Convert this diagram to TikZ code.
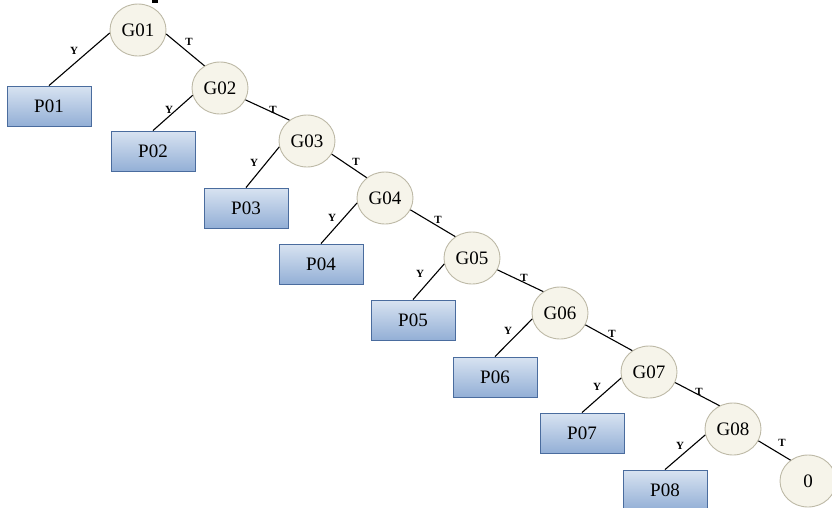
\documentclass[tikz,border=0pt]{standalone}
\usepackage{fontspec}
\setmainfont{Liberation Serif}
\usetikzlibrary{shapes.geometric}
\definecolor{ellfill}{HTML}{F6F4EA}
\definecolor{elldraw}{HTML}{BDB9A6}
\definecolor{boxtop}{HTML}{D8E3F1}
\definecolor{boxbot}{HTML}{93AFD6}
\definecolor{boxdraw}{HTML}{4A6C9E}
\begin{document}
\begin{tikzpicture}[x=1pt,y=-1pt,
 gnode/.style={ellipse, draw=elldraw, fill=ellfill, line width=0.9pt, minimum width=56pt, minimum height=52pt, inner sep=0pt, font=\fontsize{19}{21}\selectfont},
 pbox/.style={rectangle, draw=boxdraw, line width=0.9pt, top color=boxtop, bottom color=boxbot, minimum width=84pt, minimum height=40pt, inner sep=0pt, font=\fontsize{19}{21}\selectfont},
 edge/.style={draw=black, line width=1.1pt},
 lab/.style={font=\fontsize{11}{11}\selectfont\bfseries, inner sep=0pt}]
\useasboundingbox (0,0) rectangle (832,507);
\fill[black] (152,0) rectangle (158,3);
% decision nodes
\node[gnode] (G01) at (138,30) {G01};
\node[gnode] (G02) at (220,88) {G02};
\node[gnode] (G03) at (307,141) {G03};
\node[gnode] (G04) at (385,198) {G04};
\node[gnode] (G05) at (472,258) {G05};
\node[gnode] (G06) at (560,313) {G06};
\node[gnode] (G07) at (649,372) {G07};
\node[gnode] (G08) at (733,429) {G08};
\node[gnode] (Z) at (808,481) {0};
% boxes
\node[pbox] (P01) at (49,106) {P01};
\node[pbox] (P02) at (153,151) {P02};
\node[pbox] (P03) at (246,208) {P03};
\node[pbox] (P04) at (321,264) {P04};
\node[pbox] (P05) at (413,320) {P05};
\node[pbox] (P06) at (495,377) {P06};
\node[pbox] (P07) at (582,433) {P07};
\node[pbox] (P08) at (665,490) {P08};
% Y edges
\draw[edge] (G01.186) -- (P01.north);
\draw[edge] (G02.195) -- (P02.north);
\draw[edge] (G03.192) -- (P03.north);
\draw[edge] (G04.190) -- (P04.north);
\draw[edge] (G05.192) -- (P05.north);
\draw[edge] (G06.192) -- (P06.north);
\draw[edge] (G07.192) -- (P07.north);
\draw[edge] (G08.192) -- (P08.north);
% T edges
\draw[edge] (G01.-8) -- (G02.125);
\draw[edge] (G02.-25) -- (G03.130);
\draw[edge] (G03.-28) -- (G04.132);
\draw[edge] (G04.-25) -- (G05.128);
\draw[edge] (G05.-25) -- (G06.128);
\draw[edge] (G06.-25) -- (G07.128);
\draw[edge] (G07.-22) -- (G08.120);
\draw[edge] (G08.-25) -- (Z.130);
% labels
\node[lab] (y1) at (74,51) {Y};
\node[lab] (y2) at (169,110) {Y};
\node[lab] (y3) at (254,163) {Y};
\node[lab] (y4) at (332,218) {Y};
\node[lab] (y5) at (420,274) {Y};
\node[lab] (y6) at (508,331) {Y};
\node[lab] (y7) at (597,387) {Y};
\node[lab] (y8) at (680,446) {Y};
\node[lab] (t1) at (189,42) {T};
\node[lab] (t2) at (273,110) {T};
\node[lab] (t3) at (356,162) {T};
\node[lab] (t4) at (438,220) {T};
\node[lab] (t5) at (524,278) {T};
\node[lab] (t6) at (612,334) {T};
\node[lab] (t7) at (699,392) {T};
\node[lab] (t8) at (782,443) {T};
\end{tikzpicture}
\end{document}
